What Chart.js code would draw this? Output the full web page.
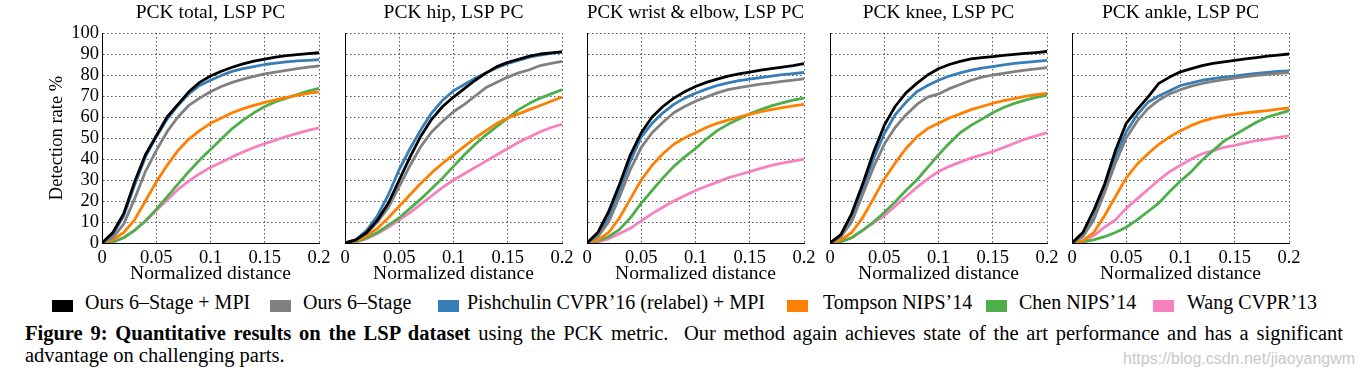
<!DOCTYPE html>
<html><head><meta charset="utf-8">
<script src="https://cdn.jsdelivr.net/npm/chart.js@4.4.1/dist/chart.umd.min.js"></script>
<style>
html,body{margin:0;padding:0;background:#fff;}
body{width:1364px;height:380px;overflow:hidden;position:relative;font-family:'Liberation Serif','Times New Roman',serif;color:#000;}
canvas.p{position:absolute;top:0;}
.sw{position:absolute;top:300px;width:21px;height:12px;}
.lt{position:absolute;top:291px;font-size:20px;line-height:22px;white-space:nowrap;}
.cap{position:absolute;left:25px;font-size:20.5px;line-height:23px;}
#wm{position:absolute;left:1123px;top:350px;font-family:'Liberation Sans',Arial,sans-serif;font-size:16px;color:#c8c8c8;white-space:nowrap;}
</style></head><body>
<canvas id="c0" class="p"></canvas>
<canvas id="c1" class="p"></canvas>
<canvas id="c2" class="p"></canvas>
<canvas id="c3" class="p"></canvas>
<canvas id="c4" class="p"></canvas>
<div id="legend"></div>
<div class="cap" id="cap1" style="top:322px;width:1318px;text-align:justify;text-align-last:justify;height:23px;overflow:hidden;"><b>Figure 9: Quantitative results on the LSP dataset</b> using the PCK metric.&nbsp; Our method again achieves state of the art performance and has a significant</div>
<div class="cap" style="top:344px;">advantage on challenging parts.</div>
<div id="wm">https://blog.csdn.net/jiaoyangwm</div>
<script>
// ---- data ----
const xValues = [0,0.01,0.02,0.03,0.04,0.05,0.06,0.07,0.08,0.09,0.1,0.11,0.12,0.13,0.14,0.15,0.16,0.17,0.18,0.19,0.2];
const xTicks = [0,0.05,0.1,0.15,0.2];
const xTickLabels = ['0','0.05','0.1','0.15','0.2'];
const yTicks = [0,10,20,30,40,50,60,70,80,90,100];
const yTickLabels = ['0','10','20','30','40','50','60','70','80','90','100'];
const methods = ['Ours 6\u2013Stage + MPI','Ours 6\u2013Stage','Pishchulin CVPR\u201916 (relabel) + MPI','Tompson NIPS\u201914','Chen NIPS\u201914','Wang CVPR\u201913'];
const colors = ['#000000','#808080','#377eb8','#ff7f00','#4daf4a','#f781bf'];
const panelTitles = ['PCK total, LSP PC','PCK hip, LSP PC','PCK wrist & elbow, LSP PC','PCK knee, LSP PC','PCK ankle, LSP PC'];

// PCK total
const total_oursMPI = [0,5,14,29,42,51,60,66,72,76.5,79.5,81.8,83.7,85.3,86.6,87.6,88.5,89.2,89.7,90.2,90.6];
const total_ours    = [0,2.5,9,21,34,44,53,60,65.5,69,72,74.5,76.5,78,79.3,80.5,81.4,82.2,83,83.7,84.3];
const total_pish    = [0,4,13,27.5,41,50.5,59,65.5,71,75,77.5,79.8,81.7,83,84,85,85.7,86.2,86.7,87,87.3];
const total_tompson = [0,1.5,5,11,20,29,37,44,49.5,53.5,57,59.5,62,64,65.5,67,68.2,69.3,70.3,71.2,72];
const total_chen    = [0,0.5,2.5,6,10.5,16,22,28,34,39.5,44.5,49.5,54.5,58.5,62,65,67.3,69,70.7,72.3,73.7];
const total_wang    = [0,0.5,2.5,6,10.5,15.5,20.5,25.5,29.5,33,36,38.5,41,43.3,45.5,47.3,49,50.7,52.2,53.6,54.8];
// PCK hip
const hip_oursMPI = [0,1.5,5,11,19,30,41,51,59,65,69.5,73.5,77.5,81,84,86,87.5,89,90,90.5,91];
const hip_ours    = [0,1.5,4.5,10,17,27,37,46,53,58,62.5,66,70,74,76.5,79,81,82.5,84.5,85.5,86.5];
const hip_pish    = [0,1.5,6,13,23,35,45,54,62,68,72.5,75.5,78.5,81,83.5,85.5,87,88.5,89.5,90.3,91];
const hip_tompson = [0,1,3.5,7,12,17.5,23,28.5,33.5,38,42,46,50,53.5,57,59.5,61.5,63.5,65.5,67.5,69.5];
const hip_chen    = [0,0.5,2.5,5,8.5,12,16.5,21,26,31,36.5,42,47,51.5,55.5,59.5,63.5,66.5,69,71,73];
const hip_wang    = [0,0.5,2,4.5,7.5,11,14.5,18.5,22.5,26.5,30,33,36,39,42,45,48,50.5,53,55,56.5];
// PCK wrist & elbow
const wrist_oursMPI = [0,5,15,28,42,52.5,60,65,69,72,74.5,76.5,78,79.5,80.5,81.4,82.3,83,83.8,84.5,85.4];
const wrist_ours    = [0,3,10,22,35,45.5,52.5,57.5,62,65,67.5,69.5,71.5,73,74,74.8,75.6,76.3,77,77.6,78.2];
const wrist_pish    = [0,3.5,12,25,39,50.5,57,62,66,69,71.3,73.3,75,76.3,77.3,78,78.8,79.5,80.2,80.7,81.2];
const wrist_tompson = [0,1.5,5,12,21,30,37,42.5,47,50,52.5,55,57,58.5,60,61.3,62.5,63.5,64.5,65.3,66];
const wrist_chen    = [0,1,3,6.5,12,19,25,31,36.5,41,45,49.5,53.5,56.5,59,61.5,63.5,65.3,66.7,68,69];
const wrist_wang    = [0,0.5,2,4.5,7,10.5,14,17,20,22.5,25,27,29,31,32.5,34,35.5,37,38,39,40];
// PCK knee
const knee_oursMPI = [0,4,14,28,43,56,65,71.5,76,80,83,85,86.5,87.7,88.3,88.8,89.3,89.8,90.3,90.7,91.2];
const knee_ours    = [0,3,10,23,36,47,55,61,66,69.5,71,73.5,75.5,77.5,79,80,80.8,81.6,82.3,82.9,83.5];
const knee_pish    = [0,3,11,25,40,52,61,67,72,75,77.5,79.5,81,82.3,83.3,84,84.8,85.5,86,86.5,87];
const knee_tompson = [0,1.5,5,12,21,30.5,38,45,50.5,54.5,57,59.5,61.5,63.5,65,66.5,67.8,68.8,69.8,70.6,71.3];
const knee_chen    = [0,0.5,2.5,6,10,14.5,19.5,25,30,36,42,47.5,52.5,56,59,62,64.5,66.5,68,69.3,70.3];
const knee_wang    = [0,1,2.5,6,9.5,13,17.5,22,26.5,30.5,34,36.5,38.5,40.5,42,43.5,45.5,47.5,49.5,51,52.5];
// PCK ankle
const ankle_oursMPI = [0,5,15.5,28,44,57,63.5,69.5,76,79,81.5,83,84.5,85.5,86.3,87,87.7,88.3,89,89.5,90];
const ankle_ours    = [0,3,11,24,38,50,58,64,68,71,73,74.7,76,77,77.8,78.5,79.2,79.8,80.3,80.8,81.2];
const ankle_pish    = [0,3.5,12,26,41,53,61,67,70,72.5,75,76.3,77.5,78.3,79,79.5,80.2,80.8,81.3,81.7,82];
const ankle_tompson = [0,1,5,13,22,31,37.5,42.5,47,50.5,53.5,56,58,59.5,60.5,61.3,62,62.5,63,63.7,64.3];
const ankle_chen    = [0,0.5,1.5,3,5,7.5,11,15,19,24.5,29.5,34,39.5,44,48.5,51.5,54.5,57.5,60,61.5,63];
const ankle_wang    = [0,1,3.5,7.5,11,16.5,21,25.5,30,34,37,40,42.5,44,45.5,46.5,47.7,48.7,49.5,50.3,51];

const panels = [
  [total_oursMPI,total_ours,total_pish,total_tompson,total_chen,total_wang],
  [hip_oursMPI,hip_ours,hip_pish,hip_tompson,hip_chen,hip_wang],
  [wrist_oursMPI,wrist_ours,wrist_pish,wrist_tompson,wrist_chen,wrist_wang],
  [knee_oursMPI,knee_ours,knee_pish,knee_tompson,knee_chen,knee_wang],
  [ankle_oursMPI,ankle_ours,ankle_pish,ankle_tompson,ankle_chen,ankle_wang]
];

// ---- layout ----
const SERIF = "'Liberation Serif','Times New Roman',serif";
const plotLefts = [102,345,587,830,1072];
const PLOT_W = 217;
const CANVAS_H = 290;

function makeChart(i){
  const first = i === 0;
  const W = first ? 60 : 10;
  const padR = 16;
  const cv = document.getElementById('c'+i);
  cv.width = W + PLOT_W + padR;
  cv.height = CANVAS_H;
  cv.style.left = (plotLefts[i]-W)+'px';
  new Chart(cv, {
    type:'line',
    data:{datasets: methods.map((m,k)=>({
      label:m,
      data: xValues.map((x,j)=>({x:x, y:panels[i][k][j]})),
      borderColor:colors[k], backgroundColor:colors[k],
      borderWidth:2.8, pointRadius:0, tension:0, fill:false,
      borderCapStyle:'round', borderJoinStyle:'round'
    }))},
    options:{
      responsive:false, animation:false, devicePixelRatio:1,
      layout:{padding:{left:0,right:padR,top:0,bottom:2}},
      plugins:{
        legend:{display:false}, tooltip:{enabled:false},
        title:{display:true,fullSize:false,text:panelTitles[i],color:'#000',
          font:{family:SERIF,size:19.5,weight:'normal',lineHeight:1.2},
          padding:{top:1.2,bottom:8.4}}
      },
      scales:{
        x:{type:'linear',min:0,max:0.2,
          afterBuildTicks:s=>{s.ticks = xTicks.map(v=>({value:v}));},
          afterFit:s=>{s.height=45;},
          ticks:{autoSkip:false,maxRotation:0,padding:4,color:'#000',
            font:{family:SERIF,size:18.5},
            callback:(v,idx)=>xTickLabels[idx]},
          grid:{color:'#555',lineWidth:1,drawTicks:false},
          border:{display:true,color:'#000',width:1,dash:[1.5,2.5]},
          title:{display:true,text:'Normalized distance',color:'#000',
            font:{family:SERIF,size:19.5,lineHeight:1.2},padding:{top:0,bottom:2.8}}
        },
        y:{type:'linear',min:0,max:100,
          afterBuildTicks:s=>{s.ticks = yTicks.map(v=>({value:v}));},
          afterFit:s=>{s.width=W;},
          ticks:{display:first,autoSkip:false,padding:3,color:'#000',
            font:{family:SERIF,size:18.5},
            callback:(v,idx)=>yTickLabels[idx]},
          grid:{color:'#555',lineWidth:1,drawTicks:false},
          border:{display:true,color:'#000',width:1,dash:[1.5,2.5]},
          title:{display:first,text:'Detection rate %',color:'#000',
            font:{family:SERIF,size:18.5,lineHeight:1.2},padding:{top:4,bottom:0}}
        }
      }
    }
  });
}
for(let i=0;i<5;i++) makeChart(i);

// ---- legend (HTML) ----
const swLeft = [52,270,438,787,986,1153];
const txtLeft = [85,303,467,823,1019,1187];
const lg = document.getElementById('legend');
methods.forEach((m,k)=>{
  const s=document.createElement('div'); s.className='sw'; s.style.left=swLeft[k]+'px'; s.style.background=colors[k]; lg.appendChild(s);
  const t=document.createElement('div'); t.className='lt'; t.style.left=txtLeft[k]+'px'; t.textContent=m; lg.appendChild(t);
});
</script>
</body></html>
